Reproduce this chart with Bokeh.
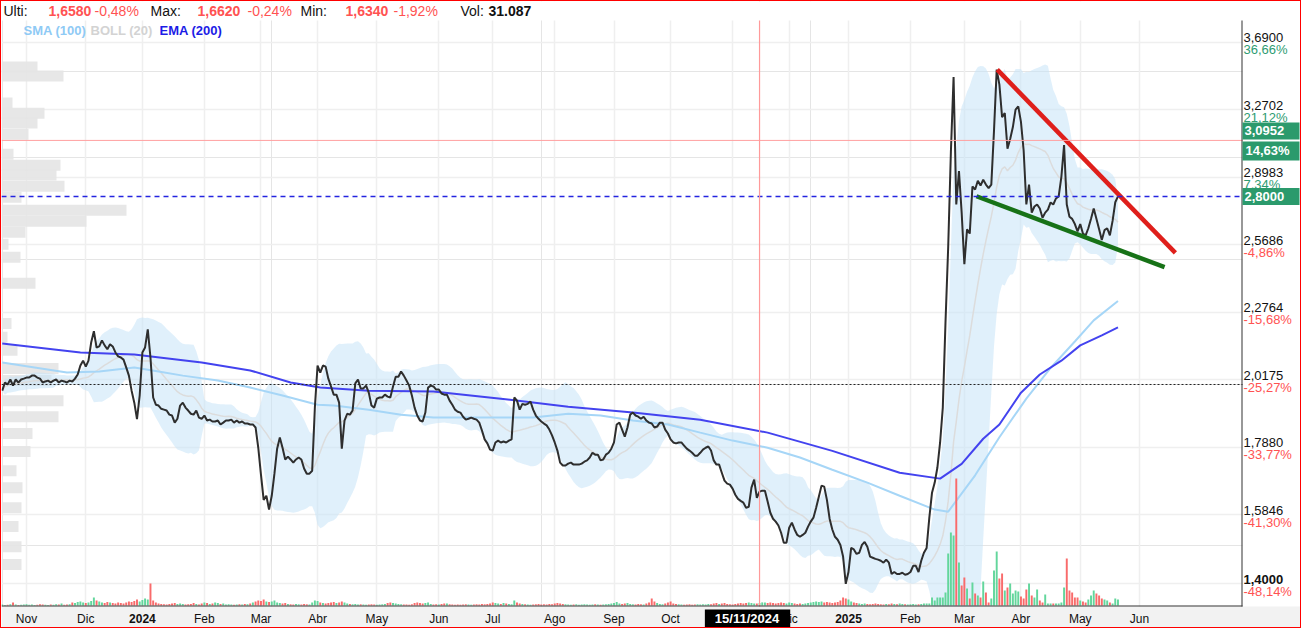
import numpy as np
import pandas as pd
from bokeh.plotting import figure
from bokeh.models import (Range1d, FixedTicker, Span, Label, ColumnDataSource, Grid,
                          BoxAnnotation, LinearScale)
from bokeh.embed import file_html
from bokeh.resources import INLINE

# ---------------- data ----------------
first_session = "2023-10-19"

closes = [
    1.978, 2.007, 2.000, 2.018, 1.996, 2.018, 2.007, 2.018, 2.021, 2.025,
    2.025, 2.032, 2.032, 2.025, 2.021, 2.007, 2.011, 2.014, 2.007, 2.014,
    2.018, 2.007, 2.014, 2.011, 2.007, 2.014, 2.011, 2.021, 2.036, 2.069,
    2.087, 2.065, 2.087, 2.156, 2.200, 2.137, 2.141, 2.164, 2.145, 2.130,
    2.149, 2.141, 2.118, 2.103, 2.099, 2.091, 2.062, 2.032, 1.978, 1.936,
    1.880, 1.961, 2.118, 2.137, 2.207, 2.099, 1.954, 1.929, 1.926, 1.915,
    1.912, 1.909, 1.895, 1.892, 1.868, 1.881, 1.926, 1.936, 1.919, 1.909,
    1.898, 1.895, 1.909, 1.885, 1.881, 1.892, 1.875, 1.878, 1.872, 1.872,
    1.875, 1.862, 1.868, 1.875, 1.875, 1.878, 1.868, 1.875, 1.868, 1.872,
    1.865, 1.865, 1.862, 1.862, 1.852, 1.786, 1.702, 1.627, 1.639, 1.599,
    1.639, 1.705, 1.783, 1.819, 1.786, 1.749, 1.758, 1.749, 1.739, 1.749,
    1.755, 1.749, 1.721, 1.705, 1.705, 1.714, 1.919, 2.069, 2.043, 2.069,
    2.065, 2.021, 1.993, 1.964, 1.964, 1.936, 1.783, 1.875, 1.898, 1.895,
    1.909, 2.004, 2.018, 1.986, 1.986, 1.996, 1.971, 1.926, 1.919, 1.950,
    1.954, 1.954, 1.964, 1.957, 1.954, 1.993, 2.028, 2.028, 2.047, 2.032,
    2.014, 1.996, 1.961, 1.919, 1.892, 1.875, 1.872, 1.902, 1.989, 1.996,
    1.993, 1.982, 1.982, 1.968, 1.964, 1.964, 1.943, 1.929, 1.912, 1.905,
    1.902, 1.888, 1.878, 1.881, 1.885, 1.881, 1.878, 1.868, 1.842, 1.813,
    1.800, 1.780, 1.777, 1.803, 1.809, 1.803, 1.806, 1.803, 1.809, 1.813,
    1.954, 1.943, 1.912, 1.932, 1.929, 1.932, 1.940, 1.912, 1.892, 1.881,
    1.872, 1.865, 1.859, 1.845, 1.826, 1.803, 1.777, 1.739, 1.730, 1.730,
    1.736, 1.739, 1.733, 1.733, 1.733, 1.736, 1.742, 1.746, 1.755, 1.770,
    1.764, 1.764, 1.746, 1.749, 1.764, 1.770, 1.783, 1.803, 1.862, 1.868,
    1.845, 1.822, 1.852, 1.895, 1.902, 1.892, 1.888, 1.881, 1.888, 1.875,
    1.868, 1.865, 1.852, 1.855, 1.868, 1.868, 1.845, 1.832, 1.813, 1.803,
    1.800, 1.803, 1.803, 1.793, 1.783, 1.777, 1.770, 1.761, 1.761, 1.770,
    1.780, 1.786, 1.790, 1.777, 1.746, 1.733, 1.733, 1.708, 1.684, 1.675,
    1.672, 1.660, 1.642, 1.630, 1.624, 1.619, 1.604, 1.607, 1.663, 1.687,
    1.633, 1.651, 1.654, 1.654, 1.622, 1.590, 1.573, 1.565, 1.554, 1.534,
    1.507, 1.507, 1.548, 1.562, 1.543, 1.528, 1.523, 1.528, 1.534, 1.551,
    1.565, 1.576, 1.604, 1.636, 1.669, 1.666, 1.627, 1.573, 1.543, 1.523,
    1.515, 1.501, 1.470, 1.400, 1.430, 1.493, 1.489, 1.477, 1.480, 1.501,
    1.509, 1.496, 1.470, 1.467, 1.464, 1.462, 1.459, 1.454, 1.462, 1.454,
    1.425, 1.430, 1.425, 1.425, 1.428, 1.423, 1.425, 1.430, 1.446, 1.446,
    1.430, 1.459, 1.480, 1.493, 1.576, 1.648, 1.678, 1.724, 1.803, 1.919,
    2.235, 2.557, 3.031, 3.467, 2.760, 2.930, 2.720, 2.480, 2.640, 2.620,
    2.850, 2.835, 2.880, 2.855, 2.885, 2.860, 2.842, 2.860, 3.150, 3.513,
    3.420, 3.227, 3.251, 3.050, 3.103, 3.170, 3.270, 3.290, 3.200, 3.040,
    2.760, 2.860, 2.720, 2.750, 2.760, 2.740, 2.695, 2.720, 2.735, 2.770,
    2.760, 2.790, 2.800, 2.900, 3.069, 2.760, 2.700, 2.690, 2.665, 2.630,
    2.665, 2.620, 2.612, 2.645, 2.690, 2.740, 2.690, 2.640, 2.590, 2.636,
    2.645, 2.612, 2.680, 2.771, 2.800,
]

volumes_k = [
    10, 5, 8, 12, 30, 10, 6, 8, 10, 12,
    8, 10, 6, 8, 12, 10, 8, 6, 10, 8,
    12, 10, 20, 8, 10, 12, 30, 25, 35, 40,
    30, 25, 30, 45, 80, 50, 40, 30, 25, 35,
    30, 25, 20, 30, 25, 20, 30, 40, 35, 45,
    60, 40, 55, 70, 60, 220, 50, 30, 20, 15,
    12, 10, 15, 20, 25, 15, 20, 15, 10, 12,
    15, 25, 15, 10, 20, 30, 25, 15, 20, 30,
    25, 15, 20, 10, 12, 10, 8, 10, 12, 10,
    15, 12, 20, 30, 40, 50, 45, 60, 40, 35,
    40, 50, 30, 25, 20, 25, 15, 12, 10, 15,
    12, 10, 15, 12, 10, 30, 50, 45, 30, 25,
    20, 25, 30, 35, 25, 30, 40, 30, 20, 15,
    12, 15, 10, 12, 10, 8, 10, 12, 10, 8,
    10, 12, 15, 25, 30, 25, 20, 15, 12, 10,
    10, 8, 12, 25, 30, 25, 20, 25, 30, 15,
    10, 12, 10, 15, 20, 20, 12, 10, 8, 10,
    8, 10, 12, 10, 8, 10, 12, 10, 15, 12,
    15, 20, 30, 25, 20, 15, 25, 20, 15, 12,
    50, 30, 20, 15, 12, 10, 8, 10, 12, 15,
    10, 12, 10, 15, 12, 20, 25, 20, 15, 12,
    10, 8, 10, 12, 8, 10, 12, 10, 8, 10,
    12, 10, 8, 10, 12, 15, 20, 25, 35, 20,
    15, 20, 25, 15, 12, 10, 15, 12, 10, 20,
    30, 70, 40, 25, 15, 12, 20, 30, 40, 20,
    15, 12, 10, 8, 10, 12, 8, 10, 12, 10,
    12, 10, 15, 12, 20, 25, 15, 20, 25, 15,
    12, 10, 15, 20, 25, 20, 25, 30, 25, 20,
    20, 25, 31, 30, 25, 30, 25, 20, 25, 30,
    25, 20, 30, 25, 20, 15, 20, 15, 20, 25,
    30, 35, 40, 35, 40, 30, 35, 30, 25, 30,
    35, 50, 80, 70, 60, 40, 30, 25, 20, 15,
    20, 15, 12, 15, 20, 15, 12, 10, 15, 12,
    20, 15, 12, 20, 15, 12, 10, 12, 15, 10,
    12, 15, 20, 20, 20, 80, 50, 80, 80, 80,
    130, 520, 730, 700, 1270, 430, 200, 280, 170, 70,
    230, 120, 100, 80, 240, 130, 30, 70, 350, 540,
    270, 320, 150, 180, 220, 120, 150, 140, 90, 70,
    160, 220, 100, 80, 160, 50, 30, 110, 20, 20,
    20, 20, 20, 30, 180, 470, 150, 130, 80, 80,
    50, 40, 30, 60, 100, 150, 120, 100, 70, 60,
    50, 30, 20, 70, 60,
]

sma100_sessions = [0, 12, 24, 36, 49, 58, 67, 80, 92, 104, 117, 123, 136, 148, 160, 173,
                   197, 210, 222, 234, 247, 259, 271, 284, 296, 308, 321, 333, 346, 351,
                   361, 370, 380, 389, 398, 405, 414]
sma100_values = [2.080, 2.062, 2.043, 2.047, 2.062, 2.047, 2.032, 2.014, 1.989, 1.961, 1.929,
                 1.926, 1.912, 1.895, 1.885, 1.885, 1.885, 1.898, 1.892, 1.875, 1.862, 1.835,
                 1.809, 1.786, 1.755, 1.717, 1.678, 1.639, 1.599, 1.593, 1.700, 1.820, 1.950,
                 2.060, 2.160, 2.243, 2.322]

ema200_sessions = [0, 29, 49, 74, 92, 107, 118, 136, 160, 185, 210, 234, 259, 284, 308, 333,
                   348, 356, 364, 370, 378, 385, 393, 400, 408, 414]
ema200_values = [2.152, 2.118, 2.110, 2.080, 2.051, 2.007, 1.989, 1.978, 1.975, 1.950, 1.922,
                 1.902, 1.878, 1.835, 1.776, 1.708, 1.690, 1.735, 1.815, 1.862, 1.971, 2.036,
                 2.087, 2.145, 2.184, 2.215]

profile_prices = [3.530, 3.473, 3.309, 3.250, 3.193, 3.130, 3.020, 2.961, 2.909, 2.852, 2.796,
                  2.732, 2.678, 2.626, 2.570, 2.511, 2.397, 2.231, 2.176, 2.126, 2.058, 2.014,
                  1.943, 1.888, 1.832, 1.774, 1.714, 1.663, 1.604, 1.551, 1.496, 1.449]
profile_volumes_k = [720, 1240, 220, 860, 720, 540, 240, 1180, 1100, 1260, 400, 2500, 1700,
                     480, 140, 380, 680, 200, 120, 320, 1140, 1000, 1240, 1140, 620, 580, 300,
                     420, 400, 340, 400, 400]

month_starts = ["2023-11-01", "2023-12-01", "2024-01-01", "2024-02-01", "2024-03-01",
                "2024-04-01", "2024-05-01", "2024-06-03", "2024-07-01", "2024-08-01",
                "2024-09-02", "2024-10-01", "2024-11-01", "2024-12-02", "2025-01-01",
                "2025-02-03", "2025-03-03", "2025-04-01", "2025-05-01", "2025-06-02"]
month_labels = ["Nov", "Dic", "2024", "Feb", "Mar", "Abr", "May", "Jun", "Jul", "Ago",
                "Sep", "Oct", "Nov", "Dic", "2025", "Feb", "Mar", "Abr", "May", "Jun"]

price_ticks = [3.69, 3.2702, 2.8983, 2.5686, 2.2764, 2.0175, 1.788, 1.5846, 1.4]
price_tick_labels = ["3,6900", "3,2702", "2,8983", "2,5686", "2,2764", "2,0175", "1,7880",
                     "1,5846", "1,4000"]
price_tick_pcts = ["36,66%", "21,12%", "7,34%", "-4,86%", "-15,68%", "-25,27%", "-33,77%",
                   "-41,30%", "-48,14%"]

red_trend_sessions = [369.2, 435.3]
red_trend_prices = [3.513, 2.531]
green_trend_sessions = [361.5, 431.3]
green_trend_prices = [2.801, 2.467]

support_level = 2.0
last_price = 2.80
last_price_label = "2,8000"
crosshair_date = "2024-11-15"
crosshair_date_label = "15/11/2024"
crosshair_price = 3.0952
crosshair_price_label = "3,0952"
crosshair_pct_label = "14,63%"

header_texts = ["Ulti:", "1,6580", "-0,48%", "Max:", "1,6620", "-0,24%", "Min:", "1,6340",
                "-1,92%", "Vol:", "31.087"]
legend_texts = ["SMA (100)", "BOLL (20)", "EMA (200)"]

# ---------------- derived ----------------
sessions = np.arange(len(closes))
month_sessions = [int(v) for v in np.busday_count(first_session, month_starts)]
cross_session = int(np.busday_count(first_session, crosshair_date))

cs = pd.Series(closes)
boll_mid = cs.rolling(20, min_periods=1).mean()
boll_sd = cs.rolling(20, min_periods=1).std(ddof=0).fillna(0)
boll_up = boll_mid + 2 * boll_sd
boll_lo = boll_mid - 2 * boll_sd

GREEN_VOL = "#63d69c"
RED_VOL = "#f96b6b"
chg = np.diff(np.array(closes), prepend=closes[0])
vol_colors = [GREEN_VOL if c >= 0 else RED_VOL for c in chg]

# ---------------- figure (frame = whole canvas) ----------------
FONT = "Liberation Sans"
CW, CH = 1301, 628          # canvas size (a 1px CSS border makes 1303 x 630)
AX_X = 1240                 # price-scale axis line (canvas x)
AX_Y = 604                  # time axis line (canvas y)
TOP_Y = 19                  # top of the chart area (canvas y)
Y0, Y1 = 1.2902, 3.9685     # price range of the canvas height (log scale)


def sy(canvas_y):
    """screen-unit y of a Label / box, measured from the canvas bottom"""
    return CH - canvas_y


def price_cy(price):
    """canvas y of a price on the log scale"""
    return (np.log(Y1) - np.log(price)) / (np.log(Y1) - np.log(Y0)) * CH


p = figure(width=CW, height=CH, output_backend="svg", toolbar_location=None,
           y_axis_type="log", x_axis_location=None, y_axis_location=None,
           x_range=Range1d(-0.276, 482.47), y_range=Range1d(Y0, Y1),
           min_border_left=0, min_border_right=0, min_border_top=0, min_border_bottom=0,
           background_fill_color="white", border_fill_color="white",
           outline_line_color=None, styles={"border": "1px solid #ff0000"})
p.extra_y_ranges = {"vol": Range1d(-240, 6040)}
p.extra_y_scales = {"vol": LinearScale()}
p.extra_x_ranges = {"vp": Range1d(0, 26020)}

p.add_layout(Grid(dimension=0, ticker=FixedTicker(ticks=month_sessions),
                  grid_line_color="#efefef", grid_line_width=1.5))
p.add_layout(Grid(dimension=1, ticker=FixedTicker(ticks=price_ticks),
                  grid_line_color="#efefef", grid_line_width=1.5))

# volume profile (left)
vp_src = ColumnDataSource(dict(y=profile_prices, w=profile_volumes_k,
                               xc=[v / 2 for v in profile_volumes_k]))
p.rect(x="xc", y="y", width="w", height=11, height_units="screen", source=vp_src,
       x_range_name="vp", fill_color="#e4e4e4", fill_alpha=0.9, line_color=None)

# Bollinger band
p.varea(x=sessions, y1=boll_lo.values, y2=boll_up.values, fill_color="#c6e3f8", fill_alpha=0.55)
p.line(sessions, boll_mid.values, line_color="#dcdcdc", line_width=1.5)

# moving averages
p.line(sma100_sessions, sma100_values, line_color="#a6d6f7", line_width=2)
p.line(ema200_sessions, ema200_values, line_color="#4343ef", line_width=2)

# volume
vsrc = ColumnDataSource(dict(x=sessions, top=volumes_k, c=vol_colors))
p.vbar(x="x", top="top", bottom=0, width=0.72, source=vsrc, y_range_name="vol",
       fill_color="c", line_color=None)

# price
p.line(sessions, closes, line_color="#2e2e2e", line_width=2)

# wedge trend lines
p.line(red_trend_sessions, red_trend_prices, line_color="#df1f1b", line_width=4.5)
p.line(green_trend_sessions, green_trend_prices, line_color="#177217", line_width=4.5)

# reference lines
p.add_layout(Span(location=support_level, dimension="width", line_color="#222222",
                  line_dash="2 2", line_width=1))
p.add_layout(Span(location=last_price, dimension="width", line_color="#2424e0",
                  line_dash="5 4", line_width=1.5))
p.add_layout(Span(location=crosshair_price, dimension="width", line_color="#ffa0a0",
                  line_width=1))
p.add_layout(Span(location=cross_session, dimension="height", line_color="#ff9a9a",
                  line_width=1.2))


def box(left=None, right=None, top=None, bottom=None, color="white"):
    kw = dict(fill_color=color, fill_alpha=1, line_color=None)
    for name, val in (("left", left), ("right", right), ("top", top), ("bottom", bottom)):
        if val is not None:
            kw[name] = val
            kw[name + "_units"] = "screen"
    p.add_layout(BoxAnnotation(**kw))


# panels around the chart area
box(left=AX_X + 1, top=sy(TOP_Y), bottom=sy(AX_Y))           # price scale panel
box(bottom=sy(TOP_Y))                                          # header strip
box(top=sy(AX_Y + 1), color="#f2f2f2")                         # time axis band
box(left=AX_X, right=AX_X + 1, top=sy(TOP_Y), bottom=sy(AX_Y + 1), color="#333333")
box(right=AX_X + 1, top=sy(AX_Y), bottom=sy(AX_Y + 1), color="#333333")


def add_label(text, x, y, x_units="screen", y_units="screen", color="#000000",
              size="13px", bold=False, align="left", baseline="middle",
              bg=None, pad=None, x_offset=0, y_offset=0):
    kw = dict(text=text, x=x, y=y, x_units=x_units, y_units=y_units,
              text_color=color, text_font=FONT, text_font_size=size,
              text_font_style="bold" if bold else "normal", text_align=align,
              text_baseline=baseline, x_offset=x_offset, y_offset=y_offset)
    if bg is not None:
        kw["background_fill_color"] = bg
    lab = Label(**kw)
    if pad is not None:
        try:
            lab.padding = pad
        except Exception:
            try:
                lab.padding = 2
            except Exception:
                pass
    p.add_layout(lab)
    return lab


RED_TXT = "#ff5252"
GREEN_TXT = "#2e9c72"
BOX_GREEN = "#2b9a6c"

# header row
hx = [2, 47, 93, 149, 196, 246, 299, 344, 392, 459, 487]
hcol = ["#111111", RED_TXT, RED_TXT, "#111111", RED_TXT, RED_TXT, "#111111", RED_TXT,
        RED_TXT, "#111111", "#111111"]
hbold = [False, True, False, False, True, False, False, True, False, False, True]
for t, x, c, b in zip(header_texts, hx, hcol, hbold):
    add_label(t, x, sy(9), color=c, size="14px", bold=b)

# legend row
for t, x, c in zip(legend_texts, [22, 89, 158], ["#8fcaf5", "#d3d3d3", "#1c1ce6"]):
    add_label(t, x, sy(29), color=c, size="13px", bold=True)

# right price scale labels
for v, t, pc in zip(price_ticks, price_tick_labels, price_tick_pcts):
    add_label(t, AX_X + 2, v, y_units="data", color="#111111", size="13px",
              bold=(v == min(price_ticks)), baseline="bottom")
    add_label(pc, AX_X + 2, v, y_units="data",
              color=(RED_TXT if pc.startswith("-") else GREEN_TXT),
              size="13px", baseline="top")

# green boxes on the price scale
cy_cross = price_cy(crosshair_price)
cy_last = price_cy(last_price)
BOX_L, BOX_R = AX_X + 1, AX_X + 58
box(left=BOX_L, right=BOX_R, top=sy(cy_cross - 18), bottom=sy(cy_cross - 1), color=BOX_GREEN)
box(left=BOX_L, right=BOX_R, top=sy(cy_cross + 1), bottom=sy(cy_cross + 20), color=BOX_GREEN)
box(left=BOX_L, right=BOX_R, top=sy(cy_last - 8.5), bottom=sy(cy_last + 8.5), color=BOX_GREEN)
add_label(crosshair_price_label, AX_X + 3, sy(cy_cross - 9.5), color="white", bold=True)
add_label(crosshair_pct_label, AX_X + 4, sy(cy_cross + 10.5), color="white", bold=True)
add_label(last_price_label, AX_X + 3, sy(cy_last), color="white", bold=True)

# time axis labels
for s, lab in zip(month_sessions, month_labels):
    add_label(lab, s, sy(617), x_units="data", color="#111111", size="12px",
              bold=lab.isdigit(), align="center")

# crosshair date box
add_label(crosshair_date_label, cross_session, sy(617), x_units="data", color="white",
          size="13px", bold=True, align="center", bg="#000000", x_offset=-12,
          pad=dict(left=10, right=11, top=1, bottom=2))

open("out.html", "w").write(file_html(p, INLINE))
